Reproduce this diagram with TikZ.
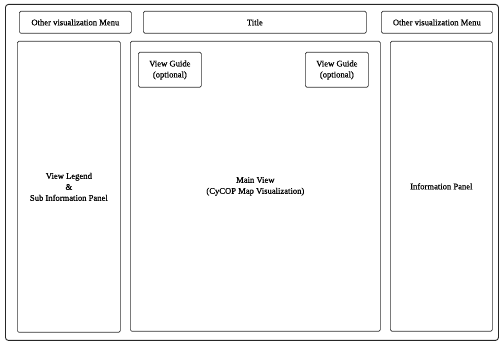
\documentclass[tikz,border=0pt]{standalone}
\usepackage{fontspec}
\setmainfont{Liberation Serif}
\newfontfamily\panelfont[FakeBold=0.6]{Liberation Serif}
\usetikzlibrary{positioning}
\begin{document}
\begin{tikzpicture}[x=1pt, y=-1pt,
    frame/.style={rectangle, draw=black!85, line width=0.9pt, rounded corners=3pt,
                  anchor=north west},
    box/.style={rectangle, draw=black!80, line width=0.7pt, rounded corners=1.5pt,
                inner sep=0pt, align=center, anchor=north west,
                font=\panelfont\fontsize{8.6}{11}\selectfont},
]
\useasboundingbox (0,0) rectangle (501,344);
\node[frame, minimum width=493pt, minimum height=336pt] (screen) at (5,4) {};

% top bar
\node[box, minimum width=112pt, minimum height=22pt] (menuL) at (19,11) {Other visualization Menu};
\node[box, minimum width=223pt, minimum height=22pt] (title) at (143,11) {Title};
\node[box, minimum width=111pt, minimum height=22pt] (menuR) at (381,11) {Other visualization Menu};

% panels
\node[box, minimum width=103pt, minimum height=291pt] (legend) at (17,41) {View Legend\\\&\\Sub Information Panel};
\node[box, minimum width=250pt, minimum height=290pt] (main) at (130,41) {Main View\\(CyCOP Map Visualization)};
\node[box, minimum width=102pt, minimum height=290pt] (info) at (390,41) {Information Panel};

% guides inside main view
\node[box, minimum width=63pt, minimum height=35pt] (guideL) at (138,52) {View Guide\\(optional)};
\node[box, minimum width=63pt, minimum height=35pt] (guideR) at (305,52) {View Guide\\(optional)};
\end{tikzpicture}
\end{document}
